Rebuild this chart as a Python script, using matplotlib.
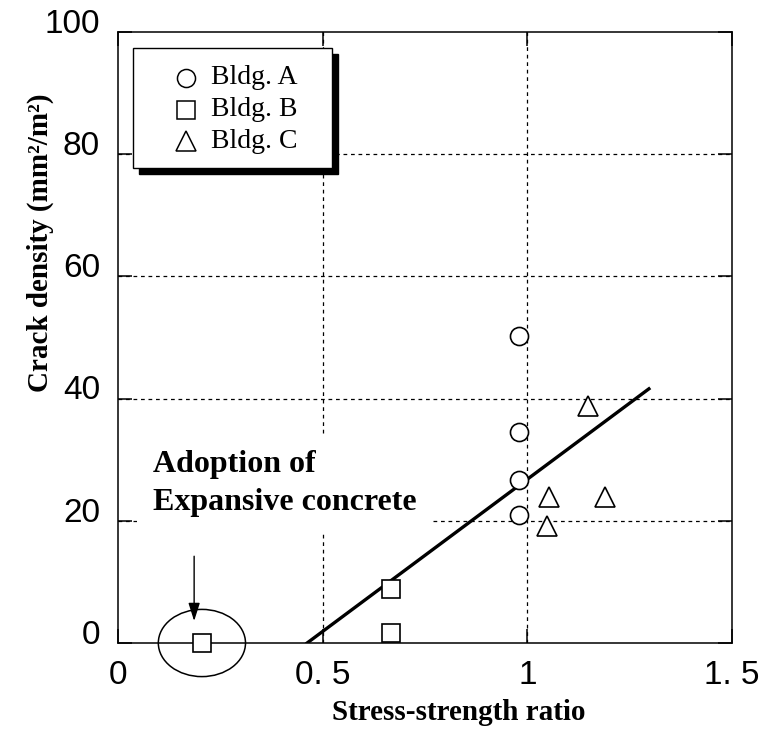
import matplotlib
matplotlib.use("Agg")
import matplotlib.pyplot as plt
from matplotlib.patches import Ellipse, Rectangle
from matplotlib.lines import Line2D
from matplotlib.transforms import ScaledTranslation

# ---- data ----
bldg_a_x = [0.98, 0.98, 0.98, 0.98]
bldg_a_y = [50.3, 34.5, 26.6, 20.9]
bldg_b_x = [0.205, 0.668, 0.668]
bldg_b_y = [0.0, 8.9, 1.6]
bldg_c_x = [1.148, 1.053, 1.19, 1.048]
bldg_c_y = [38.8, 23.9, 23.9, 19.2]
fit_x = [0.462, 1.297]
fit_y = [0.0, 41.6]
x_ticks = [0, 0.5, 1.0, 1.5]
x_ticklabels = ["0", "0. 5", "1", "1. 5"]
y_ticks = [0, 20, 40, 60, 80, 100]
y_ticklabels = ["0", "20", "40", "60", "80", "100"]
legend_labels = ["Bldg. A", "Bldg. B", "Bldg. C"]

serif = ["Liberation Serif", "DejaVu Serif"]
sans = ["Liberation Sans", "DejaVu Sans"]

fig = plt.figure(figsize=(7.63, 7.33), dpi=100)
ax = fig.add_axes([118/763, 90/733, 614/763, 611/733])
ax.set_xlim(0, 1.5)
ax.set_ylim(0, 100)

# grid
for gx in [0.5, 1.0]:
    ax.axvline(gx, color="k", lw=0.9, ls=(0, (3, 3)), zorder=0.5)
for gy in [20, 40, 60, 80]:
    ax.axhline(gy, color="k", lw=0.9, ls=(0, (3, 3)), zorder=0.5)

for s in ax.spines.values():
    s.set_linewidth(1.1)

ax.set_xticks(x_ticks)
ax.set_xticklabels(x_ticklabels, family=sans, fontsize=24)
ax.set_yticks(y_ticks)
ax.set_yticklabels(y_ticklabels, family=sans, fontsize=24)
ax.tick_params(direction="in", length=10, width=1.1, top=True, right=True,
               labeltop=False, labelright=False)
ax.tick_params(axis="y", pad=13)
ax.tick_params(axis="x", pad=12)
for lab in ax.get_yticklabels():
    lab.set_transform(lab.get_transform() + ScaledTranslation(0, 8/72, fig.dpi_scale_trans))

# fit line
ax.plot(fit_x, fit_y, color="k", lw=2.4, zorder=2)

mk = dict(linestyle="none", markerfacecolor="white", markeredgecolor="k",
          markeredgewidth=1.2, zorder=4, clip_on=False)
ax.plot(bldg_a_x, bldg_a_y, marker="o", markersize=13, **mk)
ax.plot(bldg_b_x, bldg_b_y, marker="s", markersize=12.5, **mk)
ax.plot(bldg_c_x, bldg_c_y, marker="^", markersize=15, **mk)

# ellipse around expansive concrete point
ax.add_patch(Ellipse((0.205, 0.0), 0.213, 11.0, fill=False, ec="k", lw=1.1,
                     clip_on=False, zorder=3))
ax.annotate("", xy=(0.186, 3.6), xytext=(0.186, 14.2),
            arrowprops=dict(arrowstyle="-|>,head_length=1.1,head_width=0.35",
                            color="k", lw=1.0, shrinkA=0, shrinkB=0), zorder=3)

ax.text(0.086, 20.6, "Adoption of\nExpansive concrete", transform=ax.transData,
        family=serif, fontweight="bold", fontsize=23, ha="left", va="bottom",
        linespacing=1.4,
        bbox=dict(facecolor="white", edgecolor="none", pad=12), zorder=1.5)

# legend (drawn manually, with black shadow)
lx0, lx1, ly0, ly1 = 0.0244, 0.3485, 0.777, 0.974
sh = 6/614
ax.add_patch(Rectangle((lx0 + sh, ly0 - 6/611), lx1 - lx0, ly1 - ly0,
                       transform=ax.transAxes, fc="k", ec="k", zorder=5))
ax.add_patch(Rectangle((lx0, ly0), lx1 - lx0, ly1 - ly0, transform=ax.transAxes,
                       fc="white", ec="k", lw=1.0, zorder=6))
leg_markers = ["o", "s", "^"]
leg_sizes = [13, 13, 15]
leg_y = [0.925, 0.873, 0.821]
for m, ms, yy, lab in zip(leg_markers, leg_sizes, leg_y, legend_labels):
    ax.add_line(Line2D([0.111], [yy], transform=ax.transAxes, marker=m, markersize=ms,
                       linestyle="none", markerfacecolor="white",
                       markeredgecolor="k", markeredgewidth=1.1, zorder=7))
    ax.text(0.152, yy, lab, transform=ax.transAxes, family=serif, fontsize=20,
            ha="left", va="center", zorder=7)

ax.set_xlabel("Stress-strength ratio", family=serif, fontweight="bold", fontsize=21)
ax.xaxis.set_label_coords(0.555, -0.113)
ax.xaxis.label.set_va("center")
ax.set_ylabel("Crack density (mm²/m²)", family=serif, fontweight="bold", fontsize=21)
ax.yaxis.set_label_coords(-0.127, 0.655)
ax.yaxis.label.set_va("center")

fig.savefig("out.png", dpi=100)
